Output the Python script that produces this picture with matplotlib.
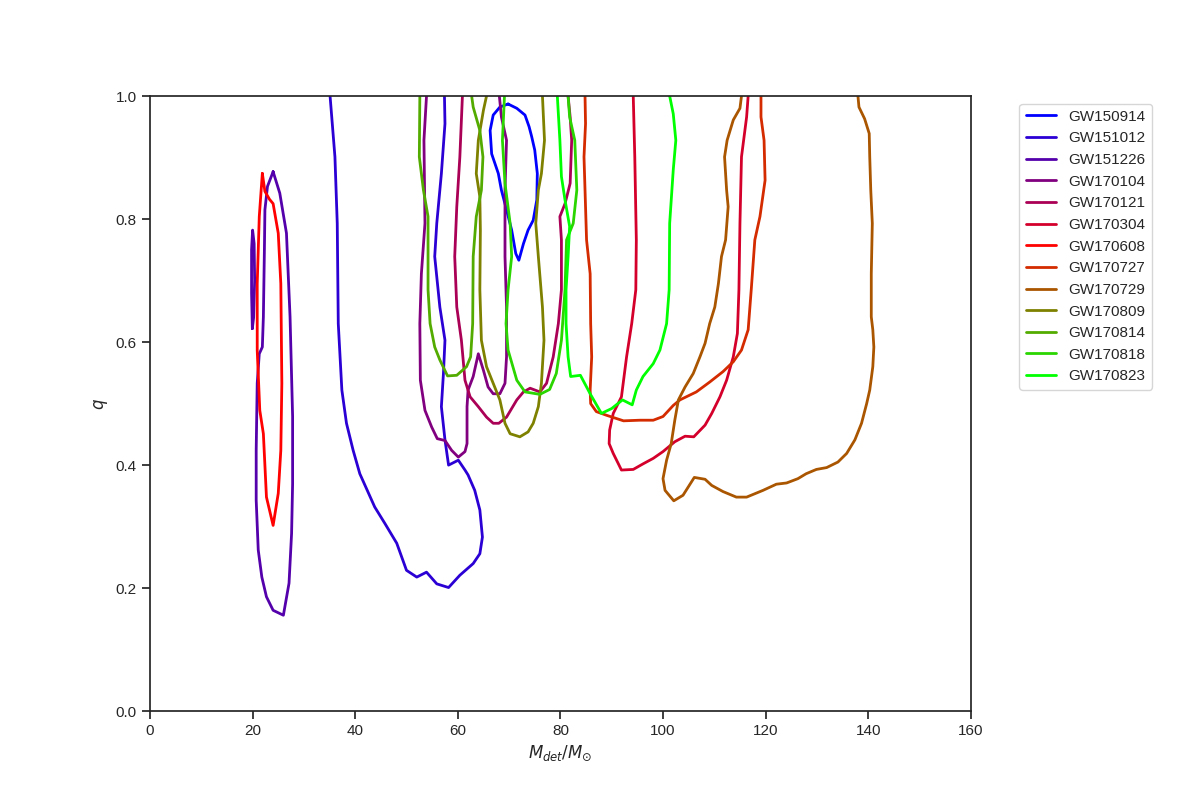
import numpy as np
import matplotlib
matplotlib.use('Agg')
import matplotlib.pyplot as plt
import seaborn as sns

sns.set_theme(style='ticks')
plt.rcParams['font.family'] = ['Liberation Sans', 'DejaVu Sans']

events = ['GW150914', 'GW151012', 'GW151226', 'GW170104', 'GW170121', 'GW170304',
          'GW170608', 'GW170727', 'GW170729', 'GW170809', 'GW170814', 'GW170818', 'GW170823']

# 90% credible contours (detector-frame total mass, mass ratio)
gw150914_m = [69.8, 71.5, 73.1, 73.9, 74.4, 75.0, 75.5, 75.4, 74.7, 73.7, 72.8, 71.9, 71.3, 70.5,
              69.5, 68.5, 67.9, 66.6, 66.3, 66.9, 68.2, 69.8]
gw150914_q = [0.987, 0.980, 0.969, 0.950, 0.934, 0.912, 0.874, 0.831, 0.798, 0.782, 0.760, 0.733,
              0.744, 0.782, 0.815, 0.847, 0.874, 0.906, 0.944, 0.969, 0.982, 0.987]

gw151012_m = [35.1, 36.05, 36.5, 36.7, 37.4, 38.3, 39.6, 40.9, 43.8, 45.8, 48.1, 50.0, 52.0, 53.9,
              55.9, 58.2, 60.4, 63.0, 64.3, 64.8, 64.3, 63.3, 62.0, 61.4, 60.1, 58.2, 57.5, 56.8,
              57.2, 57.5, 56.5, 55.5, 55.9, 56.8, 57.5, 57.4]
gw151012_q = [1.0, 0.901, 0.793, 0.630, 0.522, 0.468, 0.424, 0.386, 0.332, 0.305, 0.273, 0.229,
              0.218, 0.226, 0.207, 0.201, 0.221, 0.240, 0.256, 0.283, 0.327, 0.359, 0.384, 0.392,
              0.408, 0.400, 0.441, 0.495, 0.549, 0.603, 0.657, 0.739, 0.793, 0.874, 0.955, 1.0]

gw151226_m = [24.0, 25.3, 26.6, 27.3, 27.8, 27.8, 27.6, 27.1, 26.0, 24.0, 22.7, 21.8, 21.1, 20.7,
              20.7, 20.9, 21.3, 21.9, 22.1, 22.3, 22.4, 22.9, 24.0]
gw151226_q = [0.877, 0.842, 0.777, 0.641, 0.479, 0.370, 0.289, 0.208, 0.156, 0.164, 0.186, 0.218,
              0.262, 0.343, 0.424, 0.533, 0.581, 0.592, 0.641, 0.750, 0.815, 0.853, 0.877]
gw151226_island_m = [19.95, 19.8, 19.8, 20.0, 20.3, 20.4, 20.2, 19.95]
gw151226_island_q = [0.622, 0.68, 0.75, 0.782, 0.76, 0.70, 0.64, 0.622]

gw170104_m = [53.9, 53.4, 53.6, 52.9, 52.6, 52.7, 53.6, 54.9, 56.0, 57.5, 58.8, 60.1, 61.4, 61.8,
              61.8, 62.0, 63.0, 64.0, 65.0, 65.9, 66.9, 68.2, 69.2, 69.5, 69.5, 69.2, 69.2, 69.5,
              68.5, 68.1]
gw170104_q = [1.0, 0.928, 0.793, 0.711, 0.630, 0.538, 0.489, 0.462, 0.443, 0.440, 0.424, 0.413,
              0.422, 0.435, 0.495, 0.522, 0.544, 0.581, 0.554, 0.527, 0.516, 0.516, 0.533, 0.576,
              0.657, 0.739, 0.848, 0.928, 0.966, 1.0]

gw170121_m = [60.9, 60.4, 59.8, 59.4, 59.8, 60.7, 61.4, 62.4, 64.0, 65.6, 66.9, 68.0, 69.5, 71.5,
              72.8, 74.1, 76.0, 77.3, 78.6, 79.6, 80.2, 80.2, 79.9, 80.9, 81.9, 82.2, 81.9, 81.5]
gw170121_q = [1.0, 0.901, 0.820, 0.739, 0.657, 0.603, 0.538, 0.511, 0.495, 0.478, 0.468, 0.468,
              0.478, 0.506, 0.519, 0.525, 0.519, 0.533, 0.576, 0.630, 0.685, 0.766, 0.804, 0.825,
              0.858, 0.928, 0.966, 1.0]

gw170304_m = [94.2, 94.5, 94.8, 94.7, 93.9, 92.9, 91.9, 90.3, 89.6, 89.5, 90.3, 91.9, 94.2, 96.1,
              98.1, 100.0, 102.3, 104.3, 106.0, 108.2, 109.5, 111.1, 112.4, 113.7, 114.5, 114.8,
              115.0, 115.3, 116.3, 116.6]
gw170304_q = [1.0, 0.901, 0.766, 0.685, 0.630, 0.576, 0.511, 0.484, 0.457, 0.435, 0.419, 0.392,
              0.393, 0.402, 0.411, 0.422, 0.438, 0.447, 0.446, 0.465, 0.484, 0.511, 0.538, 0.576,
              0.614, 0.685, 0.793, 0.901, 0.966, 1.0]

gw170608_m = [21.9, 22.4, 23.3, 24.0, 25.0, 25.5, 25.7, 25.5, 25.0, 24.0, 22.7, 22.1, 21.4, 20.9,
              20.9, 21.3, 21.9]
gw170608_q = [0.874, 0.845, 0.832, 0.825, 0.777, 0.695, 0.533, 0.424, 0.354, 0.302, 0.348, 0.451,
              0.489, 0.587, 0.695, 0.804, 0.874]

gw170727_m = [84.8, 84.9, 84.6, 84.8, 85.1, 85.8, 85.9, 86.1, 85.8, 85.9, 87.0, 89.0, 92.3, 95.5,
              98.1, 100.0, 102.0, 103.3, 106.5, 109.1, 111.7, 113.7, 115.3, 116.6, 117.2, 117.9,
              118.9, 119.9, 119.7, 119.1, 119.1]
gw170727_q = [1.0, 0.955, 0.901, 0.847, 0.766, 0.711, 0.630, 0.576, 0.522, 0.500, 0.487, 0.481,
              0.472, 0.473, 0.473, 0.479, 0.497, 0.506, 0.519, 0.535, 0.552, 0.568, 0.587, 0.620,
              0.685, 0.766, 0.804, 0.863, 0.928, 0.966, 1.0]

gw170729_m = [115.3, 115.0, 113.7, 112.5, 112.0, 112.4, 112.7, 112.2, 111.4, 110.8, 110.1, 109.1,
              108.2, 107.2, 105.9, 104.3, 103.0, 102.3, 101.6, 100.7, 100.0, 100.4, 102.1, 103.9,
              106.1, 108.2, 109.5, 111.7, 114.3, 116.3, 119.5, 122.1, 124.1, 126.3, 127.9, 129.9,
              131.9, 134.1, 135.8, 137.4, 138.7, 139.7, 140.3, 140.9, 141.1, 140.9, 140.6, 140.6,
              140.8, 140.5, 140.3, 140.2, 139.3, 138.2, 138.0]
gw170729_q = [1.0, 0.980, 0.961, 0.928, 0.901, 0.847, 0.820, 0.766, 0.739, 0.695, 0.657, 0.630,
              0.598, 0.576, 0.549, 0.527, 0.506, 0.473, 0.435, 0.408, 0.378, 0.359, 0.342, 0.351,
              0.380, 0.377, 0.367, 0.357, 0.348, 0.348, 0.359, 0.369, 0.371, 0.378, 0.386, 0.393,
              0.396, 0.405, 0.419, 0.441, 0.468, 0.500, 0.522, 0.560, 0.592, 0.620, 0.641, 0.711,
              0.793, 0.847, 0.901, 0.939, 0.963, 0.982, 1.0]

gw170809_m = [65.6, 65.0, 64.0, 63.6, 64.3, 64.4, 64.3, 64.6, 65.6, 66.9, 68.2, 69.2, 70.2, 72.1,
              73.7, 74.7, 75.7, 76.3, 76.8, 76.5, 75.7, 75.2, 75.7, 76.3, 76.9, 76.6, 76.5]
gw170809_q = [1.0, 0.977, 0.928, 0.874, 0.836, 0.782, 0.685, 0.603, 0.560, 0.533, 0.506, 0.468,
              0.451, 0.446, 0.454, 0.468, 0.495, 0.533, 0.603, 0.657, 0.739, 0.793, 0.847, 0.874,
              0.928, 0.982, 1.0]

gw170814_m = [52.6, 52.5, 53.3, 54.2, 54.2, 54.6, 55.5, 56.5, 58.0, 59.8, 61.7, 62.5, 62.9, 63.0,
              63.6, 64.6, 64.9, 64.3, 63.0, 62.7]
gw170814_q = [1.0, 0.901, 0.847, 0.804, 0.685, 0.630, 0.592, 0.571, 0.545, 0.546, 0.560, 0.576,
              0.630, 0.739, 0.804, 0.847, 0.901, 0.944, 0.982, 1.0]

gw170818_m = [69.1, 68.7, 69.2, 70.2, 70.5, 69.8, 69.4, 69.8, 71.5, 73.1, 76.0, 77.9, 79.2, 80.2,
              80.9, 81.2, 82.5, 83.2, 82.8, 81.8, 81.5]
gw170818_q = [1.0, 0.928, 0.858, 0.793, 0.739, 0.685, 0.630, 0.587, 0.538, 0.519, 0.515, 0.523,
              0.549, 0.603, 0.685, 0.766, 0.793, 0.847, 0.928, 0.966, 1.0]

gw170823_m = [79.4, 79.9, 80.2, 80.9, 81.8, 81.5, 81.1, 81.1, 81.5, 82.0, 83.9, 85.8, 88.0, 90.0,
              92.1, 94.0, 94.8, 96.1, 98.1, 99.4, 100.7, 101.2, 101.3, 102.0, 102.5, 102.0, 101.3]
gw170823_q = [1.0, 0.928, 0.869, 0.831, 0.788, 0.739, 0.685, 0.630, 0.576, 0.544, 0.546, 0.516,
              0.484, 0.492, 0.506, 0.498, 0.522, 0.544, 0.565, 0.587, 0.630, 0.685, 0.793, 0.880,
              0.928, 0.971, 1.0]

masses = [gw150914_m, gw151012_m, gw151226_m, gw170104_m, gw170121_m, gw170304_m, gw170608_m,
          gw170727_m, gw170729_m, gw170809_m, gw170814_m, gw170818_m, gw170823_m]
ratios = [gw150914_q, gw151012_q, gw151226_q, gw170104_q, gw170121_q, gw170304_q, gw170608_q,
          gw170727_q, gw170729_q, gw170809_q, gw170814_q, gw170818_q, gw170823_q]

colors = plt.cm.brg(np.linspace(0, 1, len(events)))

fig, ax = plt.subplots(figsize=(12, 8), dpi=100)
fig.subplots_adjust(left=0.125, right=0.809, bottom=0.111, top=0.88)

for name, m, q, c in zip(events, masses, ratios, colors):
    ax.plot(m, q, color=c, lw=2, label=name)
    if name == 'GW151226':
        ax.plot(gw151226_island_m, gw151226_island_q, color=c, lw=2)

ax.set_xlim(0, 160)
ax.set_ylim(0, 1)
ax.set_xlabel(r'$M_{det}/M_{\odot}$')
ax.set_ylabel(r'$q$')
ax.legend(bbox_to_anchor=(1.05, 1), loc='upper left')

fig.savefig('out.png')
